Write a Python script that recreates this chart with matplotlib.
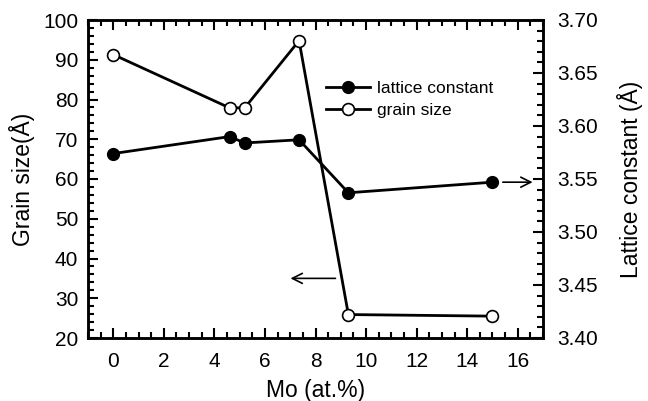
import matplotlib.pyplot as plt
from matplotlib.ticker import MultipleLocator

plt.rcParams['font.family'] = ['Liberation Sans', 'DejaVu Sans']

# Data
mo = [0, 4.6, 5.2, 7.35, 9.3, 15]
grain_size = [91.3, 77.9, 77.9, 94.8, 25.9, 25.5]
lattice_const = [3.574, 3.590, 3.584, 3.587, 3.537, 3.547]

fig = plt.figure(figsize=(6.48, 4.01), dpi=100)
ax = fig.add_axes([88 / 648, 1 - 338 / 401, (543 - 88) / 648, (338 - 20) / 401])
ax2 = ax.twinx()

l1, = ax2.plot(mo, lattice_const, 'k-', marker='o', ms=8.5, mfc='black', mec='black',
               lw=2, label='lattice constant')
l2, = ax.plot(mo, grain_size, 'k-', marker='o', ms=8.5, mfc='white', mec='black',
              mew=1.2, lw=2, label='grain size')

ax.set_xlim(-1, 17)
ax.set_ylim(20, 100)
ax2.set_ylim(3.40, 3.70)

ax.xaxis.set_major_locator(MultipleLocator(2))
ax.xaxis.set_minor_locator(MultipleLocator(0.5))
ax.yaxis.set_major_locator(MultipleLocator(10))
ax.yaxis.set_minor_locator(MultipleLocator(2))
ax2.yaxis.set_major_locator(MultipleLocator(0.05))
ax2.yaxis.set_minor_locator(MultipleLocator(0.01))
ax2.yaxis.set_major_formatter(lambda v, p: f'{v:.2f}')

ax.tick_params(which='both', direction='in', top=True, labelsize=15, width=1.5)
ax.tick_params(axis='x', pad=10)
ax.tick_params(axis='y', pad=7)
ax.tick_params(which='major', length=7)
ax.tick_params(which='minor', length=4)
ax2.tick_params(which='both', direction='in', labelsize=15, width=1.5, pad=10)
ax2.tick_params(which='major', length=7)
ax2.tick_params(which='minor', length=4)
for a in (ax, ax2):
    for s in a.spines.values():
        s.set_linewidth(1.8)

ax.set_xlabel('Mo (at.%)', fontsize=16.5, labelpad=6)
ax.set_ylabel('Grain size(Å)', fontsize=16.5, labelpad=6)
ax2.set_ylabel('Lattice constant (Å)', fontsize=16.5, labelpad=14)

ax2.legend(handles=[l1, l2], loc='upper left', bbox_to_anchor=(0.505, 0.835), frameon=False,
           fontsize=12.5, handlelength=2.5, handletextpad=0.4, labelspacing=0.4, borderpad=0)

# arrows pointing to the corresponding axes
ax.annotate('', xy=(6.9, 35), xytext=(8.9, 35),
            arrowprops=dict(arrowstyle='->', lw=1.2, color='black', mutation_scale=18))
ax2.annotate('', xy=(16.7, 3.547), xytext=(15.3, 3.547),
             arrowprops=dict(arrowstyle='->', lw=1.2, color='black', mutation_scale=18))

fig.savefig('out.png', dpi=100)
